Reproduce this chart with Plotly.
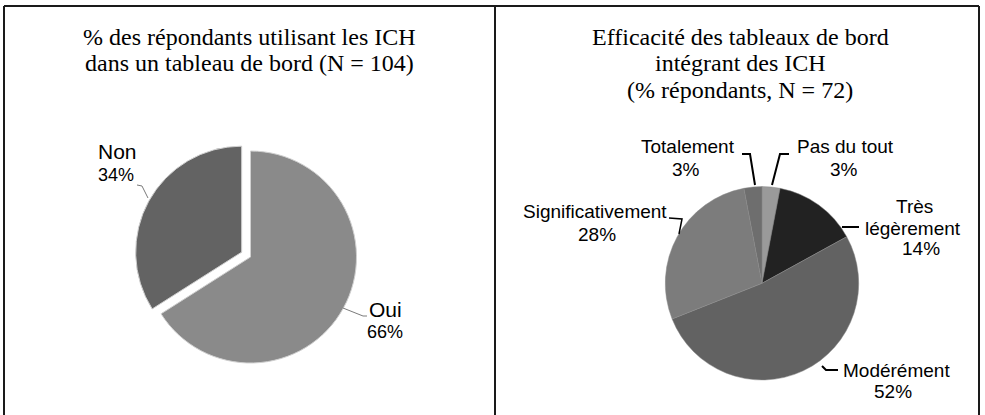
import plotly.graph_objects as go

W, H = 985, 415

# ---------------- data ----------------
left_title = ["% des répondants utilisant les ICH", "dans un tableau de bord (N = 104)"]
left_labels = ["Oui", "Non"]
left_values = [66, 34]

right_title = ["Efficacité des tableaux de bord", "intégrant des ICH", "(% répondants, N = 72)"]
right_labels = ["Pas du tout", "Très légèrement", "Modérément", "Significativement", "Totalement"]
right_values = [3, 14, 52, 28, 3]

# ---------------- styles / layout ----------------
left_colors = ["#8a8a8a", "#636363"]
left_pull = [0, 0.095]
right_colors = ["#9a9a9a", "#222222", "#626262", "#7c7c7c", "#6e6e6e"]

SERIF = "Liberation Serif"
SANS = "Liberation Sans"


def px(x):
    return x / W


def py(y):
    return 1 - y / H


def domain(cx, cy, half):
    return dict(x=[px(cx - half), px(cx + half)], y=[py(cy + half), py(cy - half)])


fig = go.Figure()

fig.add_trace(go.Pie(
    labels=left_labels, values=left_values, sort=False, direction="clockwise",
    rotation=0, pull=left_pull, textinfo="none", hoverinfo="label+percent",
    marker=dict(colors=left_colors, line=dict(color="#d0d0d0", width=1)),
    domain=domain(250.5, 257, 106 * (1 + max(left_pull))), showlegend=False,
))

fig.add_trace(go.Pie(
    labels=right_labels, values=right_values, sort=False, direction="clockwise",
    rotation=0, textinfo="none", hoverinfo="label+percent",
    marker=dict(colors=right_colors, line=dict(color="#8a8a8a", width=0.5)),
    domain=domain(762, 283.3, 96.7), showlegend=False,
))

annotations = []


def txt(t, x, y, size, family, anchor="center"):
    annotations.append(dict(
        text=t, x=px(x), y=py(y), xref="paper", yref="paper",
        xanchor=anchor, yanchor="middle", showarrow=False,
        font=dict(family=family, size=size, color="#000000"),
    ))


# titles
for i, line in enumerate(left_title):
    txt(line, 250, 37 + 26.5 * i, 24, SERIF)
for i, line in enumerate(right_title):
    txt(line, 740, 37 + 26.5 * i, 24, SERIF)

# left labels
lp = {k: round(v) for k, v in zip(left_labels, [100 * v / sum(left_values) for v in left_values])}
txt("Non", 117.2, 151.7, 21, SANS)
txt(f"{lp['Non']}%", 116.3, 175, 18, SANS)
txt("Oui", 385.5, 309, 21, SANS)
txt(f"{lp['Oui']}%", 385, 331.7, 18, SANS)

# right labels
rp = {k: round(v) for k, v in zip(right_labels, [100 * v / sum(right_values) for v in right_values])}
txt("Totalement", 687.5, 146.7, 19, SANS)
txt(f"{rp['Totalement']}%", 686, 169, 19, SANS)
txt("Pas du tout", 845, 146.7, 19, SANS)
txt(f"{rp['Pas du tout']}%", 844, 169, 19, SANS)
txt("Significativement", 595, 211.7, 19, SANS)
txt(f"{rp['Significativement']}%", 596.7, 234, 19, SANS)
txt("Très", 914, 206.7, 19, SANS)
txt("légèrement", 913, 228, 19, SANS)
txt(f"{rp['Très légèrement']}%", 920.5, 248.5, 19, SANS)
txt("Modérément", 896, 370, 19, SANS)
txt(f"{rp['Modérément']}%", 893, 391.7, 19, SANS)

shapes = []


def path(points, color, width):
    d = "M" + " L".join(f"{px(x):.5f},{py(y):.5f}" for x, y in points)
    shapes.append(dict(type="path", path=d, xref="paper", yref="paper",
                       line=dict(color=color, width=width)))


# leader lines
path([(137, 185), (142, 186), (148, 198)], "#7a7a7a", 1)
path([(343, 308), (363, 316), (367, 316)], "#7a7a7a", 1)
path([(742, 154), (750, 154), (755, 185)], "#000000", 2)
path([(789, 154), (780, 154), (772, 185)], "#000000", 2)
path([(669, 218), (682, 219), (679, 234)], "#000000", 1.5)
path([(842, 227), (859, 227)], "#000000", 2)
path([(822, 366), (826, 370), (838, 370)], "#000000", 2)

# frame
for (x0, y0, x1, y1) in [(4, 6, 979, 6), (4, 6, 4, 430), (495, 6, 495, 430), (979, 6, 979, 430)]:
    shapes.append(dict(type="line", xref="paper", yref="paper",
                       x0=px(x0), y0=py(y0), x1=px(x1), y1=py(y1),
                       line=dict(color="#1a1a1a", width=2)))

fig.update_layout(
    width=W, height=H, margin=dict(l=0, r=0, t=0, b=0),
    paper_bgcolor="white", plot_bgcolor="white",
    annotations=annotations, shapes=shapes, showlegend=False,
)

fig.write_html(
    "out.html",
    config={"displayModeBar": False},
    post_script="document.body.style.margin='0';document.body.style.overflow='hidden';",
)
